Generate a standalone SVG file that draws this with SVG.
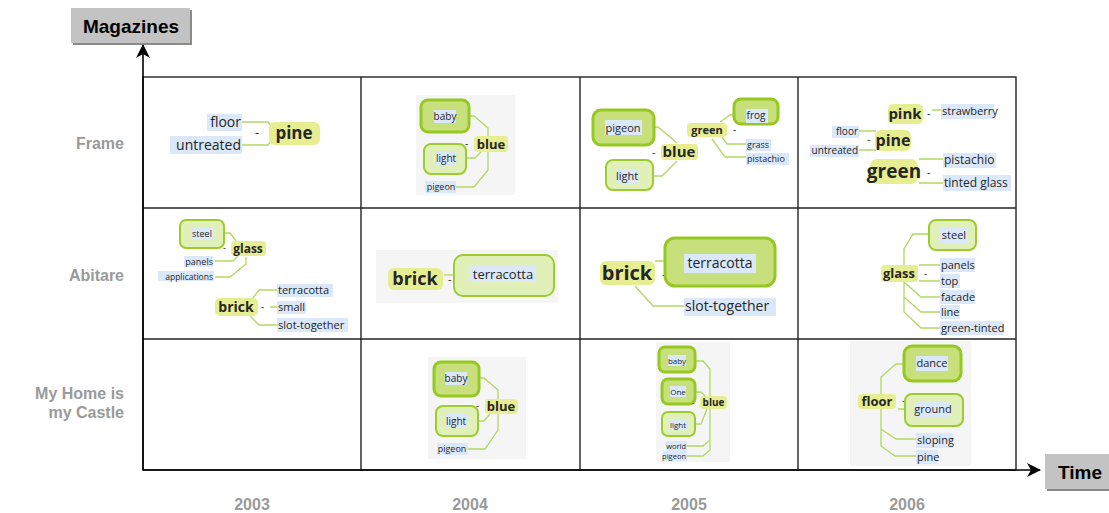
<svg xmlns="http://www.w3.org/2000/svg" width="1109" height="513" viewBox="0 0 1109 513">
  <style>
    .t { font-family: "Open Sans", "DejaVu Sans", sans-serif; fill: #262626; }
    .b { font-weight: bold; }
    .m { text-anchor: middle; }
    .e { text-anchor: end; }
    .hl { fill: #dbe8f9; }
    .ctr { fill: #e7ee92; }
    .bx1 { fill: #c8e07c; stroke: #96c822; stroke-width: 3; }
    .bx2 { fill: #e1efb8; stroke: #9ccc30; stroke-width: 2; }
    .pan { fill: #f5f5f5; }
    .ln { fill: none; stroke: #b2d764; stroke-width: 1.3; }
    .grid { fill: none; stroke: #222; stroke-width: 1.4; }
    .axis { stroke: #000; stroke-width: 1.6; }
    .hdr { font-family: "Liberation Sans", Arial, sans-serif; font-weight: bold; fill: #000; }
    .row { font-family: "Liberation Sans", Arial, sans-serif; font-weight: bold; font-size: 16px; fill: #9a9a9a; }
  </style>
  <defs>
    <marker id="arr" viewBox="0 0 14 14" refX="13" refY="7" markerWidth="14" markerHeight="14" markerUnits="userSpaceOnUse" orient="auto">
      <path d="M0,0 L14,7 L0,14 L4,7 Z" fill="#000"/>
    </marker>
  </defs>

  <rect width="1109" height="513" fill="#fff"/>

  <!-- light backdrops behind some of the maps -->
  <g id="backdrops">
    <rect class="pan" x="416" y="95" width="99" height="100"/>
    <rect class="pan" x="376" y="250" width="182" height="53"/>
    <rect class="pan" x="428" y="357" width="98" height="102"/>
    <rect class="pan" x="656" y="342" width="74" height="120"/>
    <rect class="pan" x="850" y="341" width="121" height="125"/>
  </g>

  <!-- table grid -->
  <g id="grid">
    <rect class="grid" x="143" y="77" width="873" height="393"/>
    <line class="grid" x1="361" y1="77" x2="361" y2="470"/>
    <line class="grid" x1="580" y1="77" x2="580" y2="470"/>
    <line class="grid" x1="798" y1="77" x2="798" y2="470"/>
    <line class="grid" x1="143" y1="208" x2="1016" y2="208"/>
    <line class="grid" x1="143" y1="339" x2="1016" y2="339"/>
  </g>

  <!-- axes -->
  <g id="axes">
    <line class="axis" x1="143" y1="470" x2="143" y2="45" marker-end="url(#arr)"/>
    <line class="axis" x1="143" y1="470" x2="1040" y2="470" marker-end="url(#arr)"/>
  </g>

  <g id="magazines">
    <rect x="73" y="10" width="119" height="35" fill="#8a8a8a"/>
    <rect x="71" y="8" width="119" height="35" fill="#c3c3c3"/>
    <text class="hdr m" x="131" y="33" font-size="19">Magazines</text>
  </g>
  <g id="time">
    <rect x="1047" y="456" width="64" height="35" fill="#8a8a8a"/>
    <rect x="1045" y="454" width="66" height="35" fill="#c3c3c3"/>
    <text class="hdr m" x="1080" y="479" font-size="19">Time</text>
  </g>

  <!-- row and column labels -->
  <g id="labels">
    <text class="row e" x="124" y="149">Frame</text>
    <text class="row e" x="124" y="281">Abitare</text>
    <text class="row e" x="124" y="399">My Home is</text>
    <text class="row e" x="124" y="418">my Castle</text>
    <text class="row m" x="252" y="510">2003</text>
    <text class="row m" x="470" y="510">2004</text>
    <text class="row m" x="689" y="510">2005</text>
    <text class="row m" x="907" y="510">2006</text>
  </g>

  <!-- connectors -->
  <g id="connectors">
    <!-- Frame 2003 -->
    <path class="ln" d="M242,122 H268 L271,126 M242,145 H268 L271,141"/>
    <!-- Frame 2004 -->
    <path class="ln" d="M456,116 H474 L488,128 V170 L474,187 H456 M464,158 H475 L481,152"/>
    <!-- Frame 2005 -->
    <path class="ln" d="M643,127 H658 L677,143 M643,176 H662 L677,161 M720,122 L730,115 H746 M722,137 L727,144 H746 M712,139 L725,157 H746"/>
    <!-- Frame 2006 -->
    <path class="ln" d="M932,110 H941 M859,131 H876 M859,150 H876 M919,159 H943 M919,183 H943"/>
    <!-- Abitare 2003 -->
    <path class="ln" d="M215,233 H230 L236,241 M215,261 H233 L238,256 M215,277 H230 L246,264 V257 M253,298 L259,290 H277 M250,316 L259,325 H277 M270,307 H277"/>
    <!-- Abitare 2004 -->
    <path class="ln" d="M444,275 H469"/>
    <!-- Abitare 2005 -->
    <path class="ln" d="M655,261 H684 M635,286 L653,306 H684"/>
    <!-- Abitare 2006 -->
    <path class="ln" d="M904,265 V249 L913,234 H940 M919,265 H940 M919,281 H940 M904,282 L921,297 H940 M904,282 V297 L921,312 H940 M904,297 V312 L921,328 H940"/>
    <!-- Castle 2004 -->
    <path class="ln" d="M467,378 H484 L498,390 V430 L485,449 H468 M476,421 H484 L490,414"/>
    <!-- Castle 2005 -->
    <path class="ln" d="M695,361 H703 L710,369 V440 L703,446 H687 M710,440 V450 L703,456 H687 M694,392 H701 L705,396 M695,424 H701 L707,409"/>
    <!-- Castle 2006 -->
    <path class="ln" d="M881,394 V377 L896,364 H916 M898,409 H916 M881,409 V429 L896,439 H916 M881,429 V446 L895,456 H916"/>
  </g>

  <!-- Frame / 2003 -->
  <g id="f03-floor"><rect class="hl" x="207" y="114" width="35" height="17"/><text class="t e" x="241" y="127" font-size="14">floor</text></g>
  <g id="f03-untreated"><rect class="hl" x="170" y="136" width="72" height="18"/><text class="t e" x="241" y="150" font-size="14">untreated</text></g>
  <g id="f03-pine"><rect class="ctr" x="269" y="122" width="51" height="23" rx="6"/><text class="t b m" x="294" y="139" font-size="17">pine</text><text class="t" x="255" y="137" font-size="13">-</text></g>

  <!-- Frame / 2004 -->
  <g id="f04-baby"><rect class="bx1" x="421" y="100" width="48" height="32" rx="7"/><rect class="hl" x="434" y="110" width="22" height="13"/><text class="t m" x="445" y="120" font-size="10">baby</text></g>
  <g id="f04-light"><rect class="bx2" x="424" y="144" width="42" height="30" rx="7"/><rect class="hl" x="436" y="152" width="20" height="13"/><text class="t m" x="446" y="162" font-size="10">light</text></g>
  <g id="f04-blue"><rect class="ctr" x="474" y="136" width="34" height="16" rx="4"/><text class="t b m" x="491" y="148.5" font-size="13">blue</text><text class="t" x="465" y="147" font-size="10">-</text></g>
  <g id="f04-pigeon"><rect class="hl" x="425" y="181" width="31" height="12"/><text class="t m" x="441" y="190" font-size="9">pigeon</text></g>

  <!-- Frame / 2005 -->
  <g id="f05-pigeon"><rect class="bx1" x="593" y="110" width="61" height="35" rx="8"/><rect class="hl" x="605" y="120" width="37" height="15"/><text class="t m" x="623" y="132" font-size="11">pigeon</text></g>
  <g id="f05-light"><rect class="bx2" x="606" y="160" width="47" height="30" rx="7"/><rect class="hl" x="617" y="169" width="21" height="15"/><text class="t m" x="627" y="180" font-size="11">light</text></g>
  <g id="f05-blue"><rect class="ctr" x="661" y="144" width="37" height="16" rx="4"/><text class="t b m" x="679" y="157" font-size="15">blue</text><text class="t" x="652" y="156" font-size="11">-</text></g>
  <g id="f05-green"><rect class="ctr" x="687" y="123" width="40" height="14" rx="4"/><text class="t b m" x="707" y="134" font-size="11">green</text><text class="t" x="733" y="133" font-size="10">-</text></g>
  <g id="f05-frog"><rect class="bx1" x="734" y="99" width="44" height="25" rx="7"/><rect class="hl" x="746" y="109" width="22" height="14"/><text class="t m" x="756" y="119" font-size="10">frog</text></g>
  <g id="f05-grass"><rect class="hl" x="746" y="139" width="25" height="12"/><text class="t" x="747" y="148" font-size="9">grass</text></g>
  <g id="f05-pistachio"><rect class="hl" x="746" y="153" width="43" height="12"/><text class="t" x="747" y="161.5" font-size="9">pistachio</text></g>

  <!-- Frame / 2006 -->
  <g id="f06-pink"><rect class="ctr" x="888" y="104" width="35" height="20" rx="5"/><text class="t b m" x="905" y="119" font-size="15">pink</text><text class="t" x="927" y="117" font-size="11">-</text></g>
  <g id="f06-strawberry"><rect class="hl" x="941" y="104" width="53" height="15"/><text class="t" x="942" y="115" font-size="11">strawberry</text></g>
  <g id="f06-floor"><rect class="hl" x="832" y="126" width="27" height="12"/><text class="t e" x="858" y="135" font-size="10">floor</text></g>
  <g id="f06-untreated"><rect class="hl" x="810" y="145" width="49" height="12"/><text class="t e" x="858" y="154" font-size="10">untreated</text></g>
  <g id="f06-pine"><rect class="ctr" x="875" y="130" width="36" height="21" rx="6"/><text class="t b m" x="893" y="146" font-size="16">pine</text><text class="t" x="867" y="143" font-size="11">-</text></g>
  <g id="f06-green"><rect class="ctr" x="870" y="159" width="48" height="25" rx="7"/><text class="t b m" x="894" y="178" font-size="19">green</text><text class="t" x="927" y="176" font-size="11">-</text></g>
  <g id="f06-pistachio"><rect class="hl" x="943" y="153" width="53" height="15"/><text class="t" x="944" y="164" font-size="12">pistachio</text></g>
  <g id="f06-tinted"><rect class="hl" x="943" y="175" width="68" height="16"/><text class="t" x="944" y="187" font-size="12">tinted glass</text></g>

  <!-- Abitare / 2003 -->
  <g id="a03-steel"><rect class="bx2" x="180" y="220" width="44" height="28" rx="6"/><rect class="hl" x="191" y="228" width="22" height="12"/><text class="t m" x="202" y="237" font-size="9">steel</text></g>
  <g id="a03-glass"><rect class="ctr" x="231" y="241" width="35" height="15" rx="4"/><text class="t b m" x="248" y="253" font-size="12">glass</text><text class="t" x="223" y="251" font-size="9">-</text></g>
  <g id="a03-panels"><rect class="hl" x="184" y="256" width="29" height="11"/><text class="t e" x="213" y="264.5" font-size="9">panels</text></g>
  <g id="a03-applications"><rect class="hl" x="158" y="271" width="56" height="10"/><text class="t e" x="213" y="279.5" font-size="8.5">applications</text></g>
  <g id="a03-brick"><rect class="ctr" x="215" y="298" width="43" height="18" rx="5"/><text class="t b m" x="236" y="312" font-size="14">brick</text><text class="t" x="261" y="310" font-size="10">-</text></g>
  <g id="a03-terracotta"><rect class="hl" x="277" y="284" width="56" height="13"/><text class="t" x="278" y="294" font-size="11">terracotta</text></g>
  <g id="a03-small"><rect class="hl" x="277" y="301" width="29" height="13"/><text class="t" x="278" y="311" font-size="11">small</text></g>
  <g id="a03-slot"><rect class="hl" x="277" y="318" width="71" height="14"/><text class="t" x="278" y="328.5" font-size="11">slot-together</text></g>

  <!-- Abitare / 2004 -->
  <g id="a04-brick"><rect class="ctr" x="388" y="268" width="55" height="22" rx="6"/><text class="t b m" x="415" y="285" font-size="18">brick</text><text class="t" x="448" y="283" font-size="11">-</text></g>
  <g id="a04-terracotta"><rect class="bx2" x="454" y="255" width="100" height="41" rx="9" stroke-width="2.5"/><rect class="hl" x="469" y="266" width="67" height="16"/><text class="t m" x="503" y="279" font-size="13">terracotta</text></g>

  <!-- Abitare / 2005 -->
  <g id="a05-brick"><rect class="ctr" x="600" y="261" width="55" height="24" rx="6"/><text class="t b m" x="627" y="279.5" font-size="20">brick</text><text class="t" x="662" y="279" font-size="12">-</text></g>
  <g id="a05-terracotta"><rect class="bx1" x="665" y="238" width="110" height="48" rx="10" stroke-width="3.5"/><rect class="hl" x="684" y="254" width="72" height="19"/><text class="t m" x="720" y="268" font-size="14">terracotta</text></g>
  <g id="a05-slot"><rect class="hl" x="684" y="298" width="92" height="18"/><text class="t" x="685" y="311" font-size="14">slot-together</text></g>

  <!-- Abitare / 2006 -->
  <g id="a06-steel"><rect class="bx2" x="929" y="220" width="47" height="30" rx="7"/><rect class="hl" x="940" y="228" width="28" height="15"/><text class="t m" x="954" y="239" font-size="11">steel</text></g>
  <g id="a06-glass"><rect class="ctr" x="881" y="265" width="37" height="17" rx="4"/><text class="t b m" x="899" y="278" font-size="13">glass</text><text class="t" x="924" y="277" font-size="10">-</text></g>
  <g id="a06-panels"><rect class="hl" x="940" y="258" width="35" height="14"/><text class="t" x="941" y="269" font-size="11">panels</text></g>
  <g id="a06-top"><rect class="hl" x="940" y="274" width="20" height="14"/><text class="t" x="941" y="285" font-size="11">top</text></g>
  <g id="a06-facade"><rect class="hl" x="940" y="290" width="35" height="14"/><text class="t" x="941" y="301" font-size="11">facade</text></g>
  <g id="a06-line"><rect class="hl" x="940" y="305" width="20" height="14"/><text class="t" x="941" y="316" font-size="11">line</text></g>
  <g id="a06-tinted"><rect class="hl" x="940" y="321" width="64" height="14"/><text class="t" x="941" y="332" font-size="11">green-tinted</text></g>

  <!-- My Home is my Castle / 2004 -->
  <g id="c04-baby"><rect class="bx1" x="434" y="362" width="45" height="34" rx="7"/><rect class="hl" x="445" y="372" width="22" height="13"/><text class="t m" x="456" y="382" font-size="10">baby</text></g>
  <g id="c04-light"><rect class="bx2" x="436" y="406" width="42" height="30" rx="7"/><rect class="hl" x="446" y="414" width="21" height="14"/><text class="t m" x="456" y="425" font-size="10">light</text></g>
  <g id="c04-blue"><rect class="ctr" x="485" y="399" width="33" height="15" rx="4"/><text class="t b m" x="501" y="411" font-size="13">blue</text><text class="t" x="476" y="409" font-size="10">-</text></g>
  <g id="c04-pigeon"><rect class="hl" x="437" y="443" width="31" height="12"/><text class="t m" x="452" y="452" font-size="9">pigeon</text></g>

  <!-- My Home is my Castle / 2005 -->
  <g id="c05-baby"><rect class="bx1" x="659" y="347" width="36" height="25" rx="6"/><rect class="hl" x="668" y="355" width="18" height="11"/><text class="t m" x="677" y="363.5" font-size="8">baby</text></g>
  <g id="c05-one"><rect class="bx1" x="662" y="379" width="33" height="25" rx="6"/><rect class="hl" x="670" y="386" width="16" height="11"/><text class="t m" x="678" y="394.5" font-size="8">One</text></g>
  <g id="c05-light"><rect class="bx2" x="662" y="412" width="33" height="24" rx="6"/><rect class="hl" x="670" y="419" width="17" height="11"/><text class="t m" x="678" y="427.5" font-size="8">light</text></g>
  <g id="c05-blue"><rect class="ctr" x="700" y="396" width="27" height="13" rx="4"/><text class="t b m" x="713.5" y="406" font-size="10">blue</text><text class="t" x="692" y="405" font-size="8">-</text></g>
  <g id="c05-world"><rect class="hl" x="666" y="441" width="21" height="10"/><text class="t e" x="686" y="449" font-size="7.5">world</text></g>
  <g id="c05-pigeon"><rect class="hl" x="663" y="451" width="24" height="10"/><text class="t e" x="686" y="459" font-size="7.5">pigeon</text></g>

  <!-- My Home is my Castle / 2006 -->
  <g id="c06-dance"><rect class="bx1" x="904" y="346" width="57" height="35" rx="8"/><rect class="hl" x="916" y="356" width="32" height="15"/><text class="t m" x="932" y="367" font-size="11">dance</text></g>
  <g id="c06-floor"><rect class="ctr" x="858" y="394" width="38" height="15" rx="4"/><text class="t b m" x="877" y="406" font-size="13">floor</text><text class="t" x="902" y="404" font-size="10">-</text></g>
  <g id="c06-ground"><rect class="bx2" x="905" y="394" width="58" height="32" rx="7"/><rect class="hl" x="916" y="402" width="34" height="15"/><text class="t m" x="933" y="413" font-size="11">ground</text></g>
  <g id="c06-sloping"><rect class="hl" x="916" y="433" width="37" height="15"/><text class="t" x="917" y="444" font-size="11">sloping</text></g>
  <g id="c06-pine"><rect class="hl" x="916" y="450" width="22" height="14"/><text class="t" x="917" y="461" font-size="11">pine</text></g>
</svg>
